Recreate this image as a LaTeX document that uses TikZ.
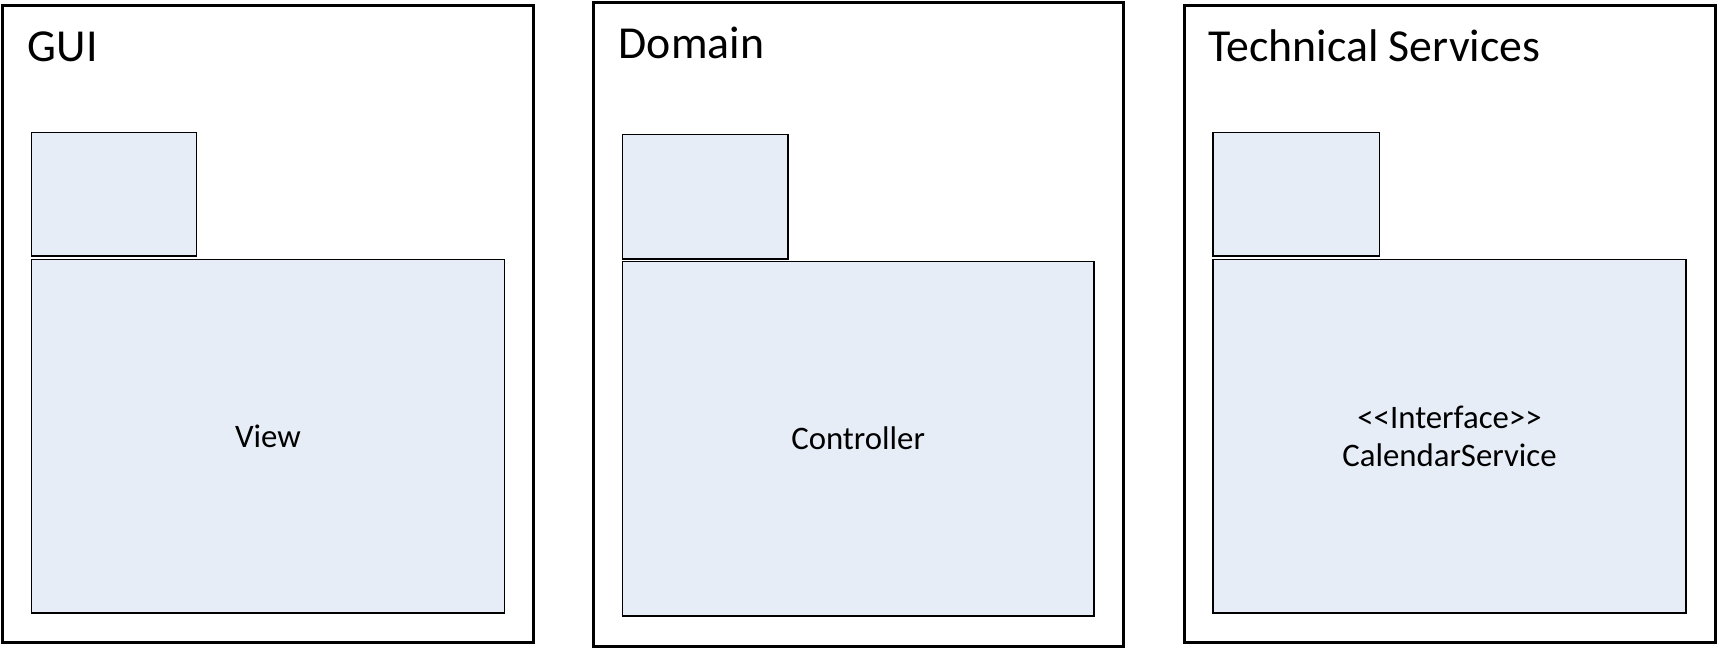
\documentclass[tikz,border=0pt]{standalone}
\usepackage{fontspec}
\setmainfont{Carlito}
\definecolor{pkgfill}{HTML}{E6EDF7}
\begin{document}
\begin{tikzpicture}[x=1pt,y=-1pt,
  layerbox/.style={draw=black, line width=3pt, minimum width=#1},
  tabbox/.style={draw=black, fill=pkgfill, line width=1.2pt, inner sep=0pt},
  bodybox/.style={draw=black, fill=pkgfill, line width=1.2pt, align=center,
    font=\fontsize{32.8}{38}\selectfont},
  titletext/.style={anchor=base west, inner sep=0pt, font=\fontsize{45.8}{54}\selectfont}]
\useasboundingbox (0,0) rectangle (1717,648);
% outer layer boxes
\node[layerbox=530.8pt, minimum height=636.8pt, inner sep=0pt] (guiframe) at (267.9,323.9) {};
\node[layerbox=530.5pt, minimum height=644.5pt, inner sep=0pt] (domframe) at (858.25,324.25) {};
\node[layerbox=531.3pt, minimum height=636.5pt, inner sep=0pt] (tecframe) at (1449.65,323.75) {};
% titles
\node[titletext] (guititle) at (27.5,61.5) {GUI};
\node[titletext] (domtitle) at (618.5,58.5) {Domain};
\node[titletext] (tectitle) at (1208,61.5) {Technical Services};
% package tabs
\node[tabbox, minimum width=165pt, minimum height=123.5pt] (guitab) at (114,194.25) {};
\node[tabbox, minimum width=165.7pt, minimum height=124.7pt] (domtab) at (705.15,196.65) {};
\node[tabbox, minimum width=166.5pt, minimum height=123.5pt] (tectab) at (1296.25,194.25) {};
% package bodies
\node[bodybox, minimum width=473pt, minimum height=353.5pt] (guibody) at (268,436.25) {View};
\node[bodybox, minimum width=471.7pt, minimum height=354.7pt] (dombody) at (858.15,438.65) {Controller};
\node[bodybox, minimum width=473pt, minimum height=353.5pt] (tecbody) at (1449.5,436.25) {<\kern0pt<Interface>\kern0pt>\\CalendarService};
\end{tikzpicture}
\end{document}
